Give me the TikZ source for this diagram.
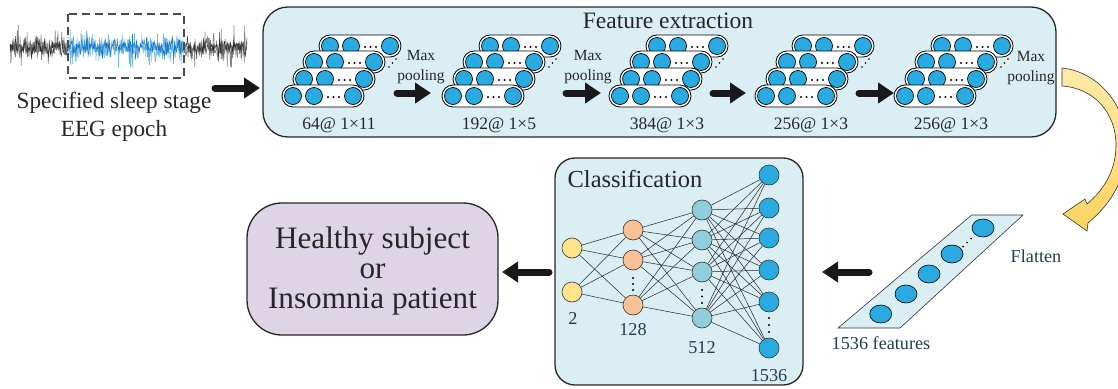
\documentclass[tikz,border=0pt]{standalone}
\usepackage{fontspec}
\setmainfont{Liberation Serif}
\newfontfamily\tms{Liberation Serif}
\usetikzlibrary{arrows.meta,shapes.geometric}
\definecolor{boxblue}{HTML}{DAEEF3}
\definecolor{cellblue}{HTML}{29ABE2}
\definecolor{nyellow}{HTML}{FDE38C}
\definecolor{norange}{HTML}{F8C296}
\definecolor{nteal}{HTML}{92CDDC}
\definecolor{lav}{HTML}{DDD5E5}
\definecolor{labcol}{HTML}{1F4049}
\definecolor{arrYa}{HTML}{FDEAA8}
\definecolor{arrYb}{HTML}{FCD35E}
\definecolor{eegblue}{HTML}{1A7BC4}
\definecolor{eegblueL}{HTML}{6DB8E8}

\newcommand\pillrow[3]{%
  \pgfmathsetmacro\pxl{#2}%
  \pgfmathsetmacro\pyc{#3}%
  \node[pill] (#1) at ({\pxl+41},\pyc) {};
  \node[cell] (#1a) at ({\pxl+11},\pyc) {};
  \node[cell] (#1b) at ({\pxl+32},\pyc) {};
  \node[cell] (#1c) at ({\pxl+71},\pyc) {};
  \foreach \dd in {46,51.5,57} {\fill ({\pxl+\dd},{\pyc+1}) circle[radius=1.1pt];}
}
\newcommand\fstack[2]{%
  \pillrow{#1r4}{#2+37}{46}
  \pillrow{#1r3}{#2+21}{62}
  \foreach \dx/\dy in {107/67,110.5/63,114/59} {\fill ({#2+\dx},\dy) circle[radius=0.9pt];}
  \pillrow{#1r2}{#2+11}{79}
  \pillrow{#1r1}{#2}{96}
}

\begin{document}
\begin{tikzpicture}[x=1pt,y=-1pt,
  panel/.style={draw=black!85, line width=1.3pt, fill=boxblue, inner sep=0pt},
  pill/.style={draw=black, line width=0.8pt, fill=white, rounded corners=11pt, minimum width=82pt, minimum height=22pt, inner sep=0pt},
  cell/.style={circle, draw=black, line width=0.7pt, fill=cellblue, minimum size=17pt, inner sep=0pt},
  bigarrow/.style={line width=7pt, line cap=round, -{Triangle[length=16pt,width=20pt]}, black!90},
  neuron/.style={circle, draw=black!80, line width=0.6pt, minimum size=20pt, inner sep=0pt},
  conn/.style={line width=0.5pt, black!85},
  dimlbl/.style={font=\tms\fontsize{17.5}{20}\selectfont, text=black!85},
  mp/.style={font=\tms\fontsize{15.5}{20}\selectfont, align=center, inner sep=0pt, text=black!85},
  nlbl/.style={font=\tms\fontsize{18.2}{20}\selectfont, text=labcol},
  fcell/.style={ellipse, draw=black, line width=0.6pt, fill=cellblue, minimum width=22pt, minimum height=18pt, inner sep=0pt}
]
\useasboundingbox (0,0) rectangle (1118,388);

% ---------- EEG signal ----------
\pgfmathsetseed{11}
\draw[black!50, line width=0.6pt] plot[domain=10:68, samples=150] (\x,{48+rand*(5+22*rnd*rnd)});
\draw[black!80, line width=0.45pt] plot[domain=10:68, samples=120] (\x,{48+rand*(4+12*rnd*rnd)});
\draw[black!50, line width=0.6pt] plot[domain=184:247, samples=160] (\x,{48+rand*(5+26*rnd*rnd)});
\draw[black!80, line width=0.45pt] plot[domain=184:247, samples=130] (\x,{48+rand*(4+14*rnd*rnd)});
\draw[eegblueL, line width=0.6pt] plot[domain=68:184, samples=320] (\x,{48+rand*(5+28*rnd*rnd)});
\draw[eegblue, line width=0.5pt] plot[domain=68:184, samples=260] (\x,{47+rand*(4+15*rnd*rnd)});
\draw[black!70, line width=1.1pt, dash pattern=on 8pt off 5pt] (68,14) rectangle (184,78);
\node[font=\tms\fontsize{23.2}{28}\selectfont, align=center, text=black!85] (eeg) at (114,117) {Specified sleep stage\\EEG epoch};
\coordinate (a0s) at (215,88);
\coordinate (a0e) at (260,88);
\draw[bigarrow] (a0s) -- (a0e);

% ---------- Feature extraction ----------
\node[panel, minimum width=793pt, minimum height=130pt, rounded corners=25pt] (fe) at (659.5,72) {};
\node[font=\tms\fontsize{23.5}{26}\selectfont, text=black!85] (fetitle) at (668,21) {Feature extraction};

\fstack{sA}{282}
\fstack{sB}{442}
\fstack{sC}{609}
\fstack{sD}{755}
\fstack{sE}{894}

\node[dimlbl] (lA) at (339,125) {64@ 1×11};
\node[dimlbl] (lB) at (499,125) {192@ 1×5};
\node[dimlbl] (lC) at (667,125) {384@ 1×3};
\node[dimlbl] (lD) at (811,125) {256@ 1×3};
\node[dimlbl] (lE) at (951,125) {256@ 1×3};

\node[mp] (mp1) at (421,67) {Max\\pooling};
\node[mp] (mp2) at (588,67) {Max\\pooling};
\node[mp] (mp3) at (1031,68) {Max\\pooling};

\coordinate (a1s) at (397,93); \coordinate (a1e) at (431,93);
\coordinate (a2s) at (566,93); \coordinate (a2e) at (601,93);
\coordinate (a3s) at (713,93); \coordinate (a3e) at (746,93);
\coordinate (a4s) at (859,93); \coordinate (a4e) at (894,93);
\draw[bigarrow] (a1s) -- (a1e);
\draw[bigarrow] (a2s) -- (a2e);
\draw[bigarrow] (a3s) -- (a3e);
\draw[bigarrow] (a4s) -- (a4e);

% ---------- yellow curved arrow ----------
\begin{scope}
\clip (0,0) rectangle (1118,388);
\shade[top color=arrYa, bottom color=arrYb, draw=black!80, line width=0.6pt]
  (1062,68) .. controls (1100,72) and (1128,108) .. (1127,148)
  .. controls (1125,185) and (1106,208) .. (1088,223)
  -- (1087,231) -- (1063,214) -- (1085,199) -- (1087,204)
  .. controls (1104,190) and (1116,170) .. (1116,145)
  .. controls (1116,113) and (1094,88) .. (1062,86) -- cycle;
\end{scope}

% ---------- Flatten ----------
\filldraw[fill=boxblue, draw=black!80, line width=0.6pt] (971.7,215) -- (1023,215) -- (900,328) -- (838,328) -- cycle;
\node[fcell] (f1) at (880.7,314) {};
\node[fcell] (f2) at (906,294) {};
\node[fcell] (f3) at (929,274) {};
\node[fcell] (f4) at (952,254) {};
\node[fcell] (f5) at (983,228) {};
\foreach \px/\py in {963/246.5,967/242.5,971/238.5} {\fill (\px,\py) circle[radius=1pt];}
\node[nlbl] (flat) at (1036,256) {Flatten};
\node[nlbl] (feat) at (881,343) {1536 features};

\coordinate (a5s) at (869,272); \coordinate (a5e) at (822,272);
\draw[bigarrow] (a5s) -- (a5e);

% ---------- Classification ----------
\node[panel, minimum width=248pt, minimum height=227pt, rounded corners=20pt] (cls) at (679,271.5) {};
\node[font=\tms\fontsize{24.5}{26}\selectfont, text=black!85] (clstitle) at (635,179) {Classification};

\node[neuron, fill=nyellow] (n1a) at (572,248) {};
\node[neuron, fill=nyellow] (n1b) at (572,292) {};
\node[neuron, fill=norange] (n2a) at (633,230) {};
\node[neuron, fill=norange] (n2b) at (633,260) {};
\node[neuron, fill=norange] (n2c) at (633,305) {};
\node[neuron, fill=nteal] (n3a) at (702,210) {};
\node[neuron, fill=nteal] (n3b) at (702,240) {};
\node[neuron, fill=nteal] (n3c) at (702,272) {};
\node[neuron, fill=nteal] (n3d) at (702,318) {};
\node[neuron, fill=cellblue] (n4a) at (769,175) {};
\node[neuron, fill=cellblue] (n4b) at (769,208) {};
\node[neuron, fill=cellblue] (n4c) at (769,238) {};
\node[neuron, fill=cellblue] (n4d) at (769,270) {};
\node[neuron, fill=cellblue] (n4e) at (769,302) {};
\node[neuron, fill=cellblue] (n4f) at (769,348) {};
\foreach \a in {n1a,n1b} \foreach \b in {n2a,n2b,n2c} \draw[conn] (\a) -- (\b);
\foreach \a in {n2a,n2b,n2c} \foreach \b in {n3a,n3b,n3c,n3d} \draw[conn] (\a) -- (\b);
\foreach \a in {n3a,n3b,n3c,n3d} \foreach \b in {n4a,n4b,n4c,n4d,n4e,n4f} \draw[conn] (\a) -- (\b);
\foreach \py in {278,284,290} {\fill (633,\py) circle[radius=1.1pt];}
\foreach \py in {290,296.5,303} {\fill (702,\py) circle[radius=1.1pt];}
\foreach \py in {318,325,332} {\fill (769,\py) circle[radius=1.1pt];}
\node[nlbl] (l2) at (573,318) {2};
\node[nlbl] (l128) at (633,330) {128};
\node[nlbl] (l512) at (702,348) {512};
\node[nlbl] (l1536) at (769,376) {1536};

% ---------- Output ----------
\node[panel, fill=lav, minimum width=251pt, minimum height=132pt, rounded corners=35pt] (out) at (372.5,269) {};
\node[font=\tms\fontsize{31.2}{30}\selectfont, align=center, text=black!85] (outtxt) at (372.5,271) {Healthy subject\\or\\Insomnia patient};
\coordinate (a6s) at (549,272); \coordinate (a6e) at (502,272);
\draw[bigarrow] (a6s) -- (a6e);
\end{tikzpicture}
\end{document}
